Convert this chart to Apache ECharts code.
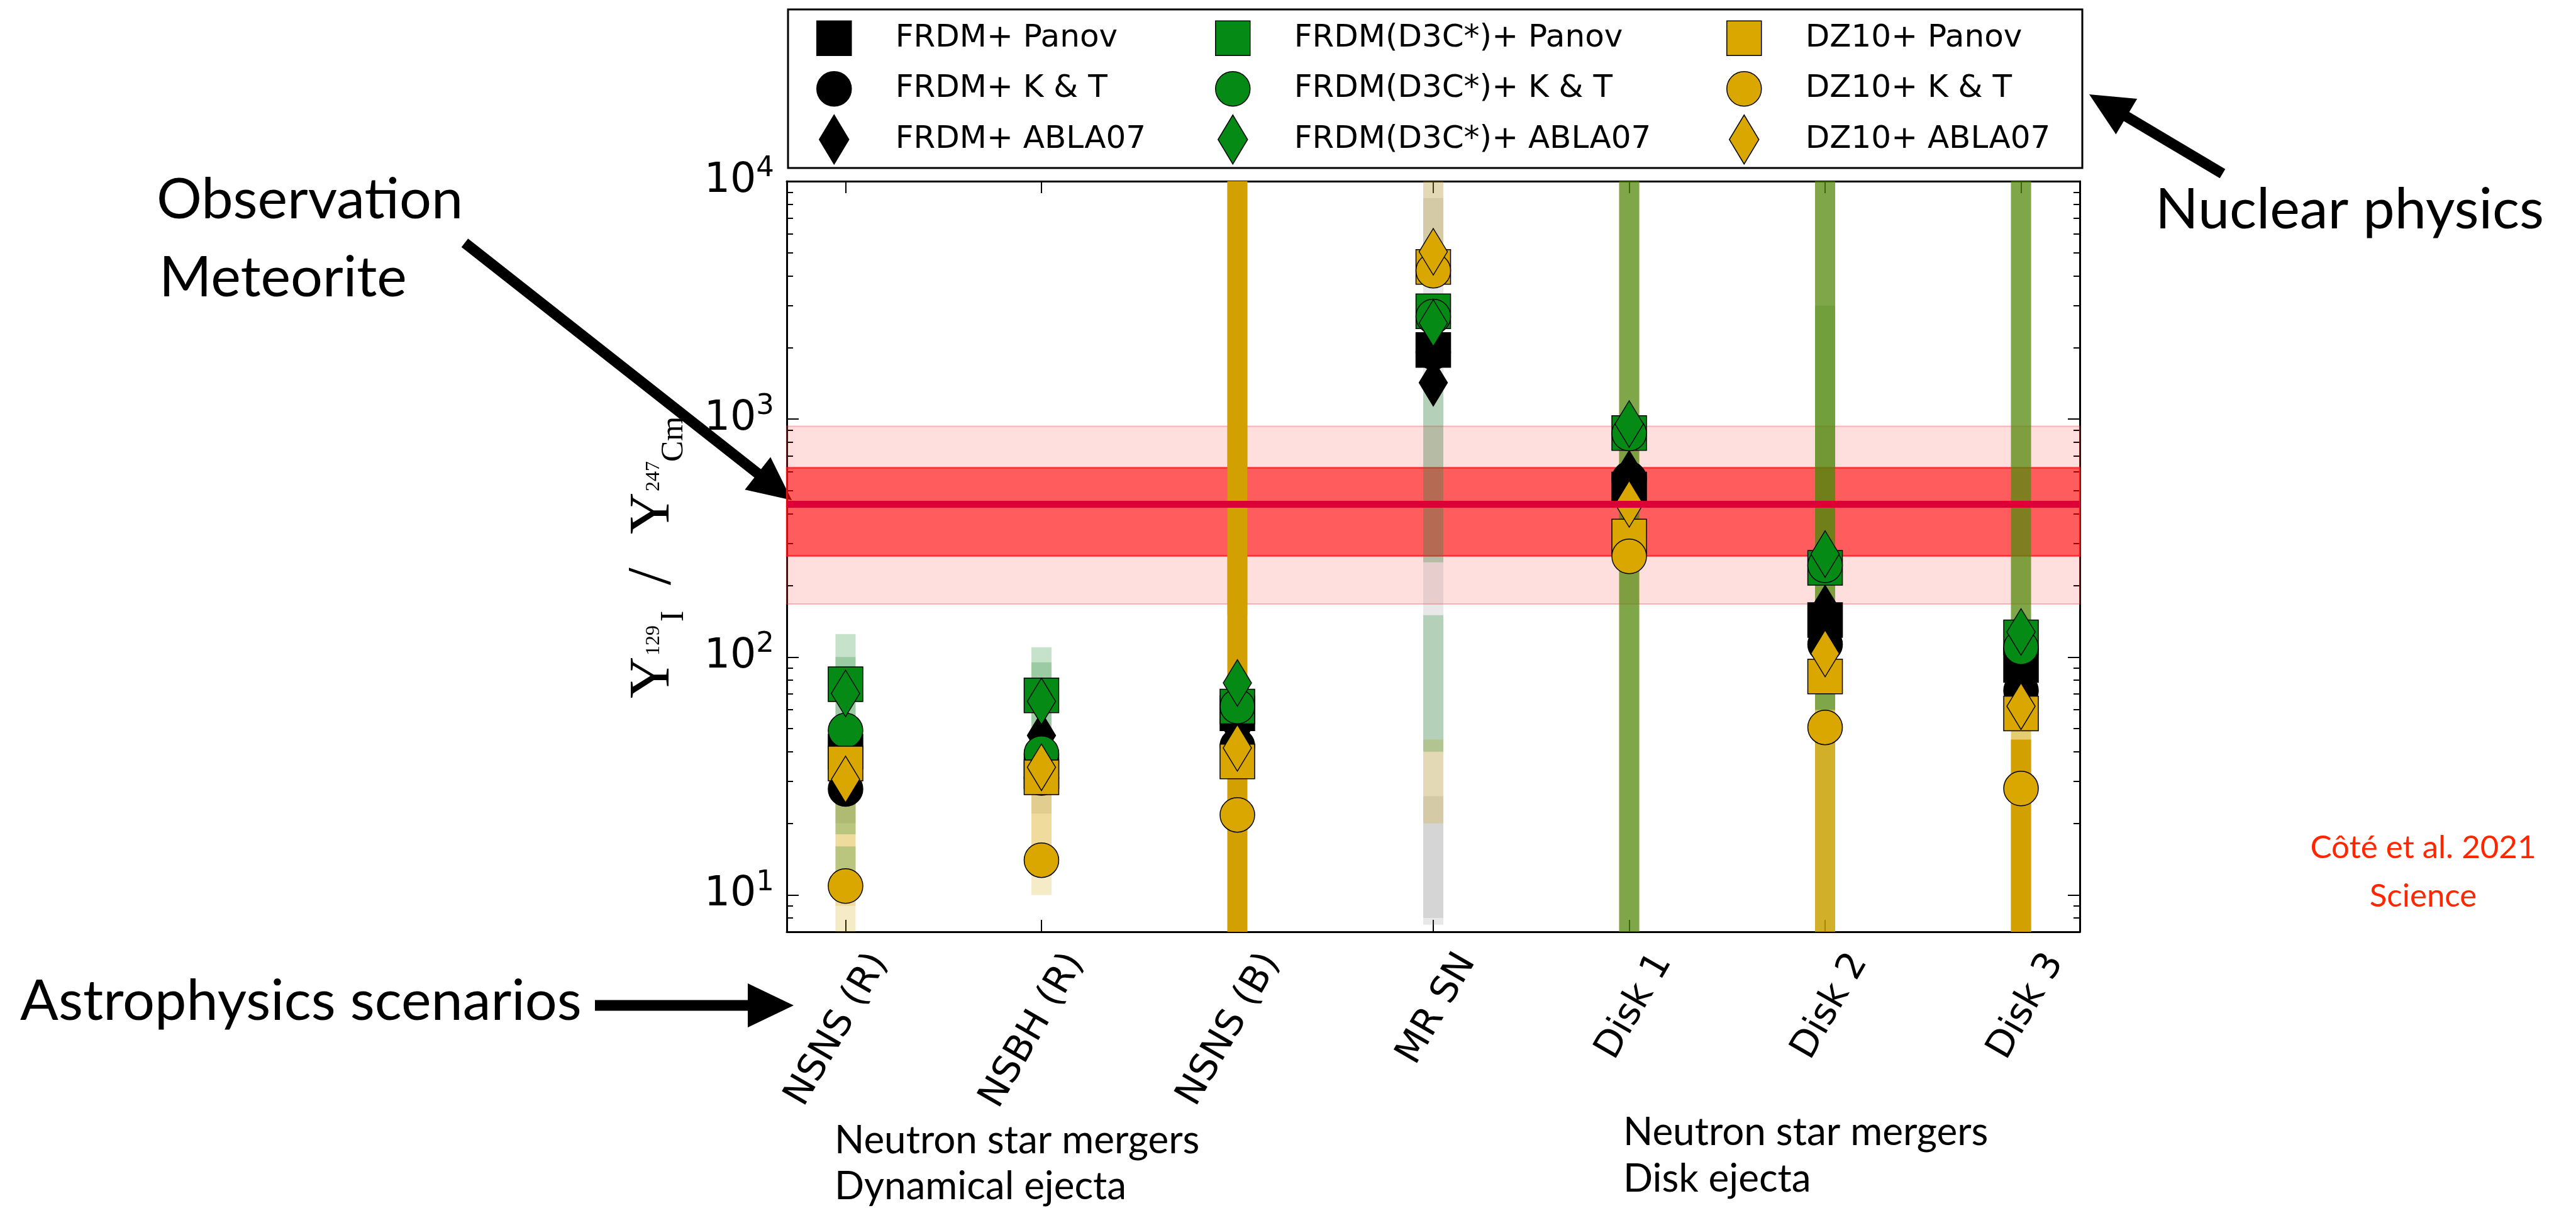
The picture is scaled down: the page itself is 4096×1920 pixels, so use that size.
<!DOCTYPE html>
<html>
<head>
<meta charset="utf-8">
<title>129I / 247Cm production ratio</title>
<script src="https://cdn.jsdelivr.net/npm/echarts@6/dist/echarts.min.js"></script>
<style>
  html, body { margin: 0; padding: 0; background: #ffffff; }
  #chart { width: 4096px; height: 1920px; }
</style>
</head>
<body>
<div id="chart"></div>
<script>
// Astrophysical scenarios on the horizontal axis
const categories = ['NSNS (R)', 'NSBH (R)', 'NSNS (B)', 'MR SN', 'Disk 1', 'Disk 2', 'Disk 3'];

// Y(129I) / Y(247Cm), one value per scenario, for each nuclear-physics input
const frdmPanov = [40, 33, 58, 1952, 506, 143, 92.6];
const frdmKT    = [27.9, 31, 42.3, 1910, 560, 113, 72.2];
const frdmAbla  = [34, 46.8, 50, 1422, 589, 160, 82];
const d3cPanov  = [76.9, 69.0, 61.9, 2838, 874, 237, 121];
const d3cKT     = [49.1, 39.4, 62, 2700, 870, 243, 110];
const d3cAbla   = [70.3, 65.1, 77.8, 2535, 954, 271, 127.5];
const dz10Panov = [35.7, 31.2, 36.4, 4361, 321, 82.8, 57.9];
const dz10KT    = [10.9, 14.0, 21.7, 4205, 265, 50.6, 28.0];
const dz10Abla  = [30.6, 34.4, 41.5, 5053, 440, 103.5, 62.1];

// Spread of the individual model runs: [scenario index, low, high]
const spreadGoldSolid = [[2, 7, 10000], [6, 7, 45]];
const spreadGoldDense = [[4, 7, 10000], [5, 7, 10000], [5, 7, 50], [6, 7, 10000]];
const spreadGreenDense = [[4, 7, 10000], [5, 60, 10000], [6, 60, 10000]];
const spreadGoldFaint = [[0, 7, 30], [0, 9, 26], [1, 10, 32], [1, 16, 30], [3, 20, 45], [3, 5000, 10000]];
const spreadGreenFaint = [[0, 40, 125], [0, 48, 100], [0, 18, 28], [0, 12, 16], [1, 40, 110], [1, 48, 95],
  [2, 150, 10000], [3, 250, 1400], [3, 40, 150], [5, 250, 3000], [5, 7, 60]];
const spreadGrayFaint = [[3, 7.5, 10000], [3, 8, 26], [3, 5000, 8500], [0, 20, 28], [1, 22, 30]];

// Meteoritic value with its two uncertainty ranges
const meteorite = [439];
const meteoriteInner = [266, 624];
const meteoriteOuter = [167, 933];

// Axis ticks
const xTicks = [0, 1, 2, 3, 4, 5, 6];
const yMajor = [10, 100, 1000, 10000];
const yMinor = [7, 8, 9, 20, 30, 40, 50, 60, 70, 80, 90, 200, 300, 400, 500, 600, 700, 800, 900,
  2000, 3000, 4000, 5000, 6000, 7000, 8000, 9000];

const BLACK = '#000000';
const GREEN = '#068a16';
const GOLD = '#d9a700';
// Legend icons share one 55 x 78 frame so every legend row has the same height
const ICON_SQUARE = 'path://M0,-39 M-27.5,-27.5 L27.5,-27.5 L27.5,27.5 L-27.5,27.5 Z M0,39';
const ICON_CIRCLE = 'path://M0,-39 M27.5,0 A27.5,27.5 0 1,1 -27.5,0 A27.5,27.5 0 1,1 27.5,0 Z M0,39';
const ICON_DIAMOND = 'path://M0,-39 L23.5,0 L0,39 L-23.5,0 Z M-27.5,0 M27.5,0';

const chart = echarts.init(document.getElementById('chart'), null, { renderer: 'canvas' });

function spreadSeries(name, data, fill) {
  return {
    name: name,
    type: 'custom',
    z: 1,
    silent: true,
    data: data,
    encode: { x: 0, y: [1, 2] },
    renderItem: function (params, api) {
      const top = api.coord([api.value(0), api.value(2)]);
      const bottom = api.coord([api.value(0), api.value(1)]);
      const w = 32;
      return {
        type: 'rect',
        shape: { x: top[0] - w / 2, y: top[1], width: w, height: bottom[1] - top[1] },
        style: { fill: fill }
      };
    }
  };
}

function markerSeries(name, values, symbol, color) {
  return {
    name: name,
    type: 'scatter',
    z: 4,
    symbol: symbol,
    symbolSize: symbol === 'diamond' ? [45, 74] : 55,
    itemStyle: { color: color, borderColor: BLACK, borderWidth: 1.5, opacity: 1 },
    data: values.map(function (v, i) { return [i, v]; })
  };
}

function legendBlock(left, items) {
  return {
    orient: 'vertical',
    left: left,
    top: 21,
    padding: 0,
    itemWidth: 55,
    itemHeight: 78,
    itemGap: 1,
    selectedMode: false,
    data: items,
    formatter: function (name) { return '{t|' + name + '}'; },
    textStyle: {
      rich: {
        t: { fontFamily: 'DejaVu Sans', fontSize: 50, color: BLACK, padding: [0, 0, 0, 65] }
      }
    }
  };
}

function legendItem(name, icon, color) {
  return { name: name, icon: icon, itemStyle: { color: color, borderColor: BLACK, borderWidth: 1.5 } };
}

function arrow(tail, tip, shaft, headLen, headW) {
  const dx = tip[0] - tail[0], dy = tip[1] - tail[1];
  const len = Math.sqrt(dx * dx + dy * dy);
  const ux = dx / len, uy = dy / len, nx = -uy, ny = ux;
  const bx = tip[0] - ux * headLen, by = tip[1] - uy * headLen;
  const s = shaft / 2, h = headW / 2;
  return {
    type: 'polygon',
    silent: true,
    shape: { points: [
      [tail[0] + nx * s, tail[1] + ny * s], [bx + nx * s, by + ny * s], [bx + nx * h, by + ny * h],
      [tip[0], tip[1]],
      [bx - nx * h, by - ny * h], [bx - nx * s, by - ny * s], [tail[0] - nx * s, tail[1] - ny * s]
    ] },
    style: { fill: BLACK }
  };
}

function label(text, x, y, size, opts) {
  opts = opts || {};
  return {
    type: 'text',
    x: x, y: y,
    silent: true,
    style: {
      text: text,
      font: (opts.weight || 'normal') + ' ' + size + 'px ' + (opts.family || 'Lato'),
      fill: opts.color || BLACK,
      align: opts.align || 'left',
      verticalAlign: 'middle'
    }
  };
}

// Axis title Y_{^129 I} / Y_{^247 Cm}, laid out along the text direction, then turned upright
const serif = 'Liberation Serif';
function part(text, x, y, size) {
  return { type: 'text', x: x, y: y, silent: true,
    style: { text: text, font: size + 'px "' + serif + '"', fill: BLACK, align: 'left', verticalAlign: 'middle' } };
}
const yTitle = {
  type: 'group',
  x: 1050, y: 892,
  rotation: Math.PI / 2,
  children: [
    part('Y', -218, -11, 92),
    part('129', -150, -10, 32),
    part('I', -96, 22, 52),
    part('/', -38, -11, 100),
    part('Y', 43, -11, 92),
    part('247', 111, -10, 32),
    part('Cm', 158, 22, 50)
  ]
};

const option = {
  animation: false,
  backgroundColor: '#ffffff',
  grid: { left: 1251, right: 789, top: 288, bottom: 439, containLabel: false },
  legend: [
    legendBlock(1298, [legendItem('FRDM+ Panov', ICON_SQUARE, BLACK), legendItem('FRDM+ K & T', ICON_CIRCLE, BLACK), legendItem('FRDM+ ABLA07', ICON_DIAMOND, BLACK)]),
    legendBlock(1932, [legendItem('FRDM(D3C*)+ Panov', ICON_SQUARE, GREEN), legendItem('FRDM(D3C*)+ K & T', ICON_CIRCLE, GREEN), legendItem('FRDM(D3C*)+ ABLA07', ICON_DIAMOND, GREEN)]),
    legendBlock(2745, [legendItem('DZ10+ Panov', ICON_SQUARE, GOLD), legendItem('DZ10+ K & T', ICON_CIRCLE, GOLD), legendItem('DZ10+ ABLA07', ICON_DIAMOND, GOLD)])
  ],
  xAxis: [
    {
      type: 'value', position: 'bottom', min: -0.3, max: 6.3,
      splitLine: { show: false },
      axisLine: { show: true, onZero: false, lineStyle: { color: BLACK, width: 3 } },
      axisTick: { show: true, inside: true, length: 19, customValues: xTicks, lineStyle: { color: BLACK, width: 2 } },
      axisLabel: {
        show: true, customValues: xTicks,
        formatter: function (v) { return categories[Math.round(v)]; },
        rotate: 60, align: 'right', verticalAlign: 'top', padding: [33, 0, 0, 0], margin: 8,
        fontFamily: 'DejaVu Sans', fontSize: 59, color: BLACK
      }
    },
    {
      type: 'value', position: 'top', min: -0.3, max: 6.3,
      splitLine: { show: false },
      axisLine: { show: true, onZero: false, lineStyle: { color: BLACK, width: 3 } },
      axisTick: { show: true, inside: true, length: 19, customValues: xTicks, lineStyle: { color: BLACK, width: 2 } },
      axisLabel: { show: false }
    }
  ],
  yAxis: [
    {
      type: 'log', logBase: 10, min: 7, max: 10000, position: 'left',
      splitLine: { show: false }, minorTick: { show: false },
      axisLine: { show: true, onZero: false, lineStyle: { color: BLACK, width: 3 } },
      axisTick: { show: true, inside: true, length: 19, customValues: yMajor, lineStyle: { color: BLACK, width: 2 } },
      axisLabel: {
        show: true, customValues: yMajor, margin: 20,
        formatter: function (v) { return '{b|10}{s|' + Math.round(Math.log10(v)) + '}'; },
        rich: {
          b: { fontFamily: 'DejaVu Sans', fontSize: 65, color: BLACK, lineHeight: 84 },
          s: { fontFamily: 'DejaVu Sans', fontSize: 45, color: BLACK, lineHeight: 45, verticalAlign: 'top' }
        }
      }
    },
    {
      type: 'log', logBase: 10, min: 7, max: 10000, position: 'left',
      splitLine: { show: false },
      axisLine: { show: false, onZero: false },
      axisTick: { show: true, inside: true, length: 10, customValues: yMinor, lineStyle: { color: BLACK, width: 2 } },
      axisLabel: { show: false }
    },
    {
      type: 'log', logBase: 10, min: 7, max: 10000, position: 'right',
      splitLine: { show: false },
      axisLine: { show: true, onZero: false, lineStyle: { color: BLACK, width: 3 } },
      axisTick: { show: true, inside: true, length: 19, customValues: yMajor, lineStyle: { color: BLACK, width: 2 } },
      axisLabel: { show: false }
    },
    {
      type: 'log', logBase: 10, min: 7, max: 10000, position: 'right',
      splitLine: { show: false },
      axisLine: { show: false, onZero: false },
      axisTick: { show: true, inside: true, length: 10, customValues: yMinor, lineStyle: { color: BLACK, width: 2 } },
      axisLabel: { show: false }
    }
  ],
  series: [
    spreadSeries('spread gray', spreadGrayFaint, 'rgba(140,140,140,0.2)'),
    spreadSeries('spread gold faint', spreadGoldFaint, 'rgba(212,165,0,0.22)'),
    spreadSeries('spread green faint', spreadGreenFaint, 'rgba(0,125,20,0.22)'),
    spreadSeries('spread gold dense', spreadGoldDense, 'rgba(212,162,0,0.55)'),
    spreadSeries('spread green dense', spreadGreenDense, 'rgba(0,120,20,0.45)'),
    spreadSeries('spread gold solid', spreadGoldSolid, 'rgba(210,160,0,1)'),
    {
      name: 'Meteorite range',
      type: 'line', z: 2, data: [], silent: true,
      markArea: {
        silent: true,
        label: { show: false },
        data: [
          [{ yAxis: meteoriteOuter[0], itemStyle: { color: 'rgba(255,0,0,0.13)', borderColor: 'rgba(255,60,60,0.35)', borderWidth: 2 } },
           { yAxis: meteoriteOuter[1] }],
          [{ yAxis: meteoriteInner[0], itemStyle: { color: 'rgba(255,0,0,0.58)', borderColor: 'rgba(255,20,20,0.8)', borderWidth: 2.5 } },
           { yAxis: meteoriteInner[1] }]
        ]
      }
    },
    {
      name: 'Meteorite',
      type: 'line', z: 3, data: [], silent: true,
      markLine: {
        silent: true, symbol: 'none', label: { show: false },
        lineStyle: { color: '#dc0037', width: 11, type: 'solid' },
        data: [{ yAxis: meteorite[0] }]
      }
    },
    markerSeries('FRDM+ Panov', frdmPanov, 'rect', BLACK),
    markerSeries('FRDM+ K & T', frdmKT, 'circle', BLACK),
    markerSeries('FRDM+ ABLA07', frdmAbla, 'diamond', BLACK),
    markerSeries('FRDM(D3C*)+ Panov', d3cPanov, 'rect', GREEN),
    markerSeries('FRDM(D3C*)+ K & T', d3cKT, 'circle', GREEN),
    markerSeries('FRDM(D3C*)+ ABLA07', d3cAbla, 'diamond', GREEN),
    markerSeries('DZ10+ Panov', dz10Panov, 'rect', GOLD),
    markerSeries('DZ10+ K & T', dz10KT, 'circle', GOLD),
    markerSeries('DZ10+ ABLA07', dz10Abla, 'diamond', GOLD)
  ],
  graphic: [
    { type: 'rect', silent: true, shape: { x: 1253, y: 15, width: 2058, height: 252 },
      style: { fill: 'none', stroke: BLACK, lineWidth: 3 } },
    yTitle,
    label('Observation', 249, 318, 90),
    label('Meteorite', 253, 442, 90),
    arrow([739, 386], [1259, 795], 17, 69, 66),
    label('Nuclear physics', 3427, 334, 90),
    arrow([3534, 276], [3322, 150], 17, 69, 66),
    label('Astrophysics scenarios', 32, 1592, 90),
    arrow([946, 1598], [1262, 1598], 17, 73, 70),
    label('Neutron star mergers', 1327, 1813, 62),
    label('Dynamical ejecta', 1327, 1886, 62),
    label('Neutron star mergers', 2581, 1800, 62),
    label('Disk ejecta', 2581, 1874, 62),
    label('Côté et al. 2021', 3853, 1348, 51, { color: '#ff2600', align: 'center' }),
    label('Science', 3853, 1425, 51, { color: '#ff2600', align: 'center' })
  ]
};

chart.setOption(option);
</script>
</body>
</html>
